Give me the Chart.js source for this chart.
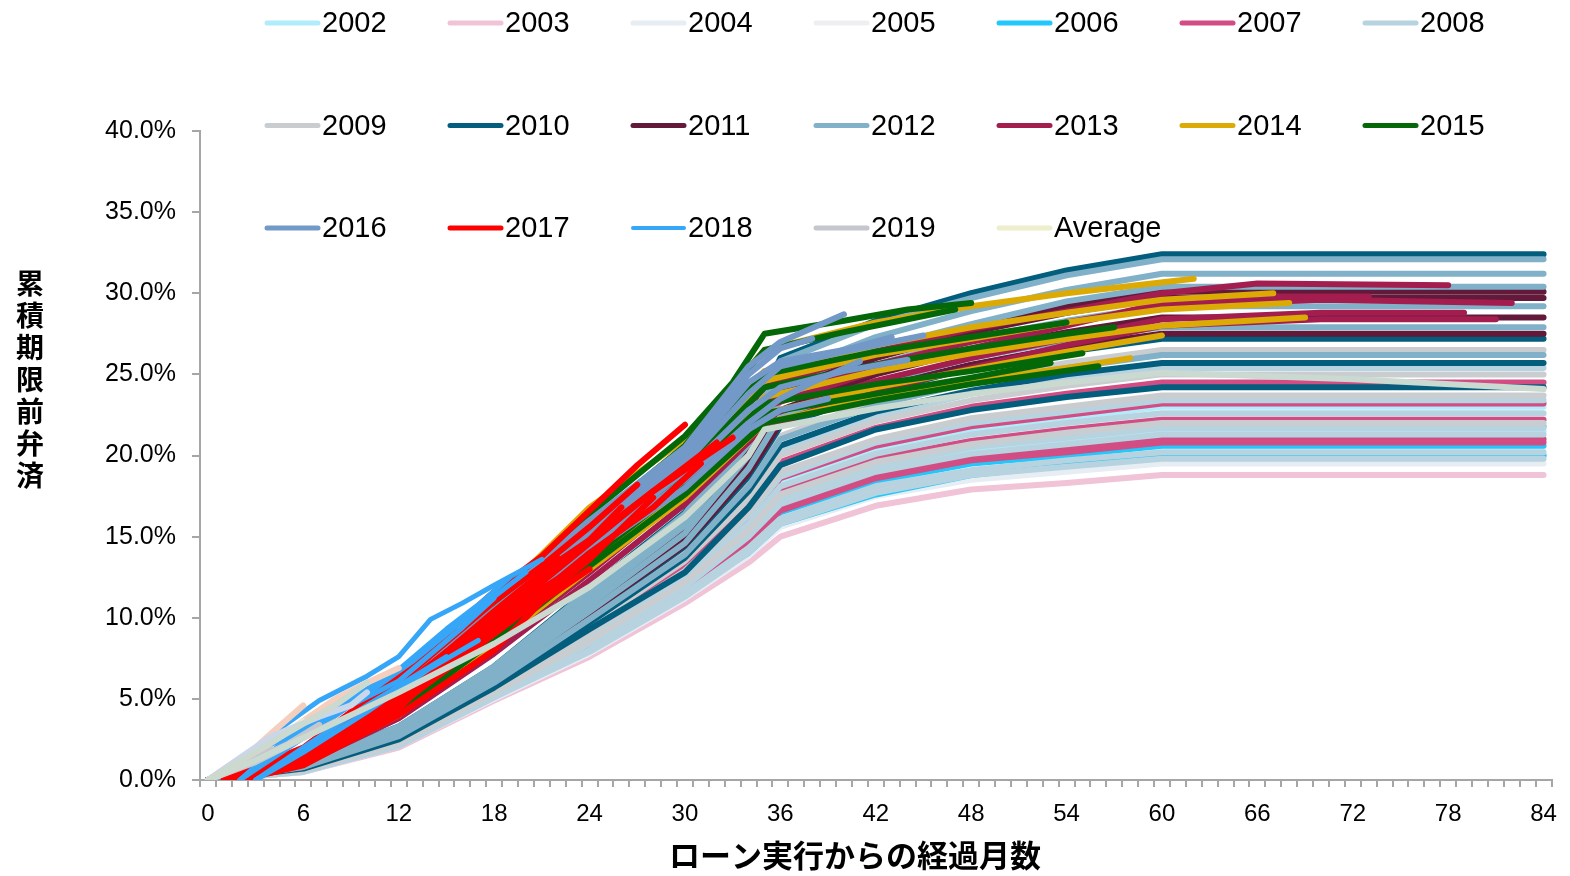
<!DOCTYPE html>
<html>
<head>
<meta charset="utf-8">
<script src="https://cdn.jsdelivr.net/npm/chart.js@4.4.1/dist/chart.umd.min.js"></script>
<style>
    html, body { margin: 0; padding: 0; background: #fff; }
    #wrap { position: relative; width: 1570px; height: 876px; }
</style>
</head>
<body>
<div id="wrap"><canvas id="prepay-chart" width="1570" height="876"></canvas></div>
<script>
// series names and colours (legend order)
const years = ['2002', '2003', '2004', '2005', '2006', '2007', '2008',
               '2009', '2010', '2011', '2012', '2013', '2014', '2015',
               '2016', '2017', '2018', '2019', 'Average'];
const colors = ['#b0ecfb', '#f0c3d6', '#e6eef4', '#efeff1', '#22c8fb', '#d24d84', '#b8d3e0',
                '#cacdd0', '#035e7e', '#62193a', '#80b1c8', '#a41d4f', '#dbaa05', '#056808',
                '#7399c8', '#fe0000', '#36a6f8', '#c6c6ce', '#eeeecc'];
const avgLineColor = '#cbdad1';

// tick labels
const monthTicks = [0, 6, 12, 18, 24, 30, 36, 42, 48, 54, 60, 66, 72, 78, 84];
const yTicks = [0, 5, 10, 15, 20, 25, 30, 35, 40];

// months used by the older cohorts (values in %)
const oldMonths = [0, 6, 12, 18, 24, 30, 34, 36, 42, 48, 54, 60, 84];

const s2002 = [
    [0, 0.7, 2.4, 5.5, 8.9, 12.6, 16.1, 18.4, 20.4, 21.6, 22.3, 23.0, 23.0],
    [0, 0.6, 2.3, 5.3, 8.4, 12.0, 15.1, 17.2, 19.2, 20.3, 20.9, 21.5, 21.5]
];
const s2003 = [
    [0, 0.5, 2.0, 4.9, 7.6, 10.9, 13.4, 15.0, 16.9, 17.9, 18.3, 18.8, 18.8],
    [0, 0.5, 2.1, 5.1, 8.0, 11.4, 14.2, 16.0, 17.9, 19.0, 19.5, 20.0, 20.0]
];
const s2004 = [
    [0, 0.5, 2.1, 5.0, 7.8, 11.2, 13.8, 15.6, 17.5, 18.5, 19.0, 19.5, 19.5],
    [0, 0.6, 2.2, 5.2, 8.3, 11.8, 14.8, 16.8, 18.7, 19.9, 20.4, 21.0, 21.0]
];
const s2005 = [
    [0, 0.6, 2.2, 5.2, 8.2, 11.6, 14.5, 16.5, 18.4, 19.5, 20.0, 20.5, 20.5],
    [0, 0.6, 2.4, 5.5, 8.7, 12.4, 15.7, 18.0, 20.0, 21.2, 21.9, 22.5, 22.5]
];
const s2006 = [
    [0, 0.6, 2.2, 5.3, 8.3, 11.6, 14.0, 15.8, 17.6, 18.8, 19.4, 20.0, 20.0],
    [0, 0.6, 2.2, 5.2, 8.2, 11.8, 14.7, 16.5, 18.4, 19.5, 20.0, 20.6, 20.6],
    [0, 0.6, 2.3, 5.4, 8.6, 12.2, 15.3, 17.4, 19.4, 20.6, 21.2, 21.8, 21.8]
];
const s2007 = [
    [0, 0.6, 2.2, 5.2, 8.2, 11.7, 14.7, 16.6, 18.6, 19.7, 20.2, 20.8, 20.8],
    [0, 0.6, 2.3, 5.4, 8.6, 12.2, 15.0, 16.9, 18.8, 19.9, 20.5, 21.0, 21.0],
    [0, 0.6, 2.3, 5.4, 8.7, 12.3, 15.6, 17.8, 19.8, 20.9, 21.6, 22.2, 22.2],
    [0, 0.7, 2.4, 5.6, 9.0, 12.7, 16.2, 18.6, 20.6, 21.8, 22.5, 23.2, 23.2],
    [0, 0.7, 2.5, 5.8, 9.4, 13.2, 17.0, 19.6, 21.7, 23.0, 23.8, 24.5, 24.5]
];
const s2008 = [
    [0, 0.5, 2.1, 5.1, 7.9, 11.3, 14.0, 15.8, 17.7, 18.8, 19.3, 19.8, 19.8],
    [0, 0.6, 2.1, 5.1, 8.0, 11.5, 14.3, 16.1, 18.1, 19.1, 19.7, 20.2, 20.2],
    [0, 0.6, 2.2, 5.3, 8.4, 11.9, 15.0, 17.0, 19.0, 20.1, 20.7, 21.3, 21.3],
    [0, 0.6, 2.3, 5.3, 8.5, 12.1, 15.2, 17.3, 19.3, 20.5, 21.1, 21.7, 21.7],
    [0, 0.6, 2.4, 5.5, 8.8, 12.5, 15.8, 18.1, 20.1, 21.3, 22.0, 22.6, 22.6],
    [0, 0.7, 2.4, 5.6, 9.0, 12.8, 16.3, 18.7, 20.8, 22.0, 22.7, 23.4, 23.4],
    [0, 0.7, 2.6, 5.9, 9.6, 13.6, 17.6, 20.3, 22.4, 23.8, 24.7, 25.4, 25.4]
];
const s2009 = [
    [0, 0.6, 2.3, 5.4, 8.6, 12.2, 15.4, 17.6, 19.6, 20.7, 21.4, 22.0, 22.0],
    [0, 0.7, 2.5, 5.7, 9.1, 12.9, 16.5, 19.0, 21.0, 22.3, 23.0, 23.7, 23.7],
    [0, 0.7, 2.6, 5.9, 9.5, 13.5, 17.3, 20.0, 22.1, 23.4, 24.3, 25.0, 25.0],
    [0, 0.8, 2.7, 6.1, 10.0, 14.1, 18.3, 21.2, 23.4, 24.7, 25.7, 26.5, 26.5]
];
const s2010 = [
    [0, 0.7, 2.5, 5.7, 9.3, 12.8, 16.8, 19.4, 21.6, 22.8, 23.6, 24.2, 24.2],
    [0, 0.8, 2.7, 6.0, 9.7, 13.7, 17.8, 20.6, 22.7, 24.0, 25.0, 25.7, 25.7],
    [0, 0.8, 2.8, 6.2, 10.2, 14.4, 18.7, 21.8, 23.9, 25.4, 26.4, 27.2, 27.2],
    [0, 1.0, 3.3, 7.0, 11.8, 16.5, 22.0, 26.0, 28.3, 30.0, 31.4, 32.4, 32.4]
];
const s2011 = [
    [0, 0.8, 2.8, 6.2, 10.3, 14.5, 18.9, 22.0, 24.2, 25.6, 26.7, 27.5, 27.5],
    [0, 0.9, 2.9, 6.4, 10.6, 14.9, 19.5, 22.8, 25.0, 26.5, 27.6, 28.5, 28.5],
    [0, 0.9, 3.0, 6.6, 11.0, 15.4, 20.3, 23.8, 26.0, 27.6, 28.8, 29.7, 29.7],
    [0, 0.9, 3.1, 6.6, 11.1, 15.6, 20.5, 24.1, 26.4, 27.9, 29.2, 30.1, 30.1]
];
const s2012 = [
    [0, 0.8, 2.7, 6.0, 9.9, 13.9, 18.1, 21.0, 23.1, 24.5, 25.4, 26.2, 26.2],
    [0, 0.8, 2.9, 6.3, 10.4, 14.6, 19.2, 22.4, 24.5, 26.0, 27.1, 27.9, 27.9],
    [0, 0.9, 3.0, 6.5, 10.8, 15.2, 20.0, 23.4, 25.6, 27.2, 28.3, 29.2, 29.2],
    [0, 0.9, 3.1, 6.7, 11.2, 15.7, 20.7, 24.3, 26.6, 28.1, 29.5, 30.4, 30.4],
    [0, 1.0, 3.2, 6.8, 11.4, 16.0, 21.2, 25.0, 27.3, 28.9, 30.2, 31.2, 31.2],
    [0, 1.0, 3.3, 7.0, 11.7, 16.4, 21.8, 25.8, 28.1, 29.7, 31.1, 32.1, 32.1]
];

// younger cohorts: [month, %] pairs, lines stop at the last observed month
const s2013 = [
    [[0, 0], [6, 1.2], [12, 4.4], [18, 9.0], [24, 14.0], [30, 19.0], [35, 24.2], [42, 26.4], [48, 27.8], [54, 28.9], [60, 30.0], [66, 30.6], [78, 30.5]],
    [[0, 0], [6, 1.1], [12, 4.2], [18, 8.6], [24, 13.4], [30, 18.4], [35, 23.4], [42, 25.6], [48, 27.0], [54, 28.2], [60, 29.2], [70, 29.6], [82, 29.4]],
    [[0, 0], [6, 1.0], [12, 4.0], [18, 8.2], [24, 12.8], [30, 17.6], [35, 22.4], [42, 24.6], [48, 26.0], [54, 27.2], [60, 28.4], [70, 28.8], [79, 28.8]],
    [[0, 0], [6, 1.0], [12, 3.8], [18, 7.8], [24, 12.3], [30, 17.0], [35, 21.8], [42, 24.0], [48, 25.4], [54, 26.8], [60, 28.0], [70, 28.4], [81, 28.4]],
    [[0, 0], [6, 1.1], [12, 4.1], [18, 8.4], [24, 13.1], [30, 18.0], [35, 23.0], [42, 25.2], [48, 26.6], [54, 28.0], [60, 29.4], [66, 29.8], [73, 29.8]]
];
const s2014 = [
    [[0, 0], [6, 1.4], [12, 5.4], [18, 11.0], [24, 16.8], [30, 21.0], [35, 26.5], [42, 28.2], [48, 29.2], [54, 30.0], [62, 30.9]],
    [[0, 0], [6, 1.3], [12, 5.0], [18, 10.3], [24, 15.6], [30, 20.2], [35, 25.2], [42, 26.8], [48, 27.9], [54, 28.8], [60, 29.6], [67, 30.0]],
    [[0, 0], [6, 1.2], [12, 4.7], [18, 9.8], [24, 14.8], [30, 19.4], [35, 24.6], [42, 26.2], [48, 27.2], [54, 28.2], [60, 29.0], [68, 29.4]],
    [[0, 0], [6, 1.1], [12, 4.4], [18, 9.2], [24, 14.0], [30, 18.6], [35, 23.6], [42, 25.2], [48, 26.3], [54, 27.2], [60, 28.0], [69, 28.5]],
    [[0, 0], [6, 1.0], [12, 4.2], [18, 8.8], [24, 13.4], [30, 17.8], [35, 22.6], [42, 24.2], [48, 25.3], [54, 26.4], [60, 27.4]],
    [[0, 0], [6, 1.0], [12, 4.0], [18, 8.4], [24, 13.0], [30, 17.4], [35, 22.0], [42, 23.6], [48, 24.6], [54, 25.4], [58, 26.0]]
];
const s2015 = [
    [[0, 0], [6, 1.6], [12, 5.6], [18, 11.0], [24, 16.4], [30, 21.2], [33, 24.5], [35, 27.5], [40, 28.3], [44, 29.0], [48, 29.4]],
    [[0, 0], [6, 1.5], [12, 5.3], [18, 10.6], [24, 15.8], [30, 20.6], [35, 26.5], [40, 27.6], [44, 28.4], [47, 29.0]],
    [[0, 0], [6, 1.4], [12, 5.0], [18, 10.0], [24, 15.0], [30, 19.8], [35, 25.0], [42, 26.4], [48, 27.3], [54, 28.2]],
    [[0, 0], [6, 1.3], [12, 4.8], [18, 9.6], [24, 14.6], [30, 19.2], [35, 24.2], [42, 25.6], [48, 26.6], [54, 27.5], [57, 27.9]],
    [[0, 0], [6, 1.2], [12, 4.6], [18, 9.2], [24, 14.0], [30, 18.6], [35, 23.2], [42, 24.4], [48, 25.2], [55, 26.3]],
    [[0, 0], [6, 1.2], [12, 4.4], [18, 9.0], [24, 13.6], [30, 18.2], [35, 22.6], [42, 23.8], [48, 24.8], [53, 25.7]],
    [[0, 0], [6, 1.1], [12, 4.2], [18, 8.6], [24, 13.2], [30, 17.6], [35, 22.0], [42, 23.4], [48, 24.4], [56, 25.5]]
];
const s2016 = [
    [[0, 0], [6, 1.8], [12, 5.8], [18, 11.0], [24, 16.0], [30, 20.5], [34, 25.5], [36, 27.0], [40, 28.7]],
    [[0, 0], [6, 1.6], [12, 5.4], [18, 10.5], [24, 15.2], [30, 19.8], [34, 24.5], [36, 25.8], [40, 26.5], [43, 27.3]],
    [[0, 0], [6, 1.5], [12, 5.2], [18, 10.2], [24, 15.0], [30, 19.5], [34, 23.8], [36, 25.5], [40, 26.4], [45, 27.4]],
    [[0, 0], [6, 1.4], [12, 5.0], [18, 9.8], [24, 14.5], [30, 19.0], [34, 22.8], [36, 24.2], [40, 25.2], [44, 25.9]],
    [[0, 0], [6, 1.4], [12, 4.8], [18, 9.5], [24, 14.2], [30, 18.5], [34, 22.0], [36, 23.5], [38, 24.5], [41, 25.8]],
    [[0, 0], [6, 1.3], [12, 4.6], [18, 9.2], [24, 14.0], [30, 18.0], [34, 21.6], [36, 22.8], [39, 23.5]],
    [[0, 0], [6, 1.5], [12, 5.2], [18, 10.0], [24, 15.5], [30, 20.2], [34, 25.0], [36, 26.6], [38, 27.2]]
];
const s2017 = [
    [[1, 0], [6, 2.0], [12, 6.4], [18, 11.6], [21, 13.8], [24, 16.6], [27, 19.4], [30, 21.9]],
    [[1, 0], [6, 1.6], [12, 5.6], [18, 10.2], [21, 12.4], [24, 14.8], [28, 17.8], [32, 20.8]],
    [[1, 0], [6, 1.5], [12, 5.2], [18, 9.8], [21, 12.2], [24, 14.6], [28, 17.8], [33, 21.1]],
    [[2, 0], [6, 1.2], [12, 4.8], [18, 9.2], [21, 11.6], [24, 14.0], [28, 16.8], [31, 19.5]],
    [[2, 0], [6, 1.0], [12, 4.6], [18, 9.0], [21, 11.2], [24, 13.6], [28, 17.4]],
    [[1, 0], [6, 1.3], [12, 5.4], [18, 10.4], [21, 12.8], [24, 14.8], [26, 16.8]],
    [[2, 0], [6, 1.1], [12, 4.4], [18, 10.0], [20, 11.8], [22, 13.7]],
    [[2, 0], [6, 0.9], [12, 4.0], [18, 8.0], [21, 11.0], [24, 13.0]],
    [[1, 0], [6, 1.8], [12, 6.0], [18, 11.0], [21, 13.2], [24, 15.6], [27, 18.2]],
    [[2, 0], [6, 1.4], [12, 5.0], [18, 9.4], [21, 11.8], [23, 13.0]]
];
const s2018 = [
    [[4, 2.8], [7, 4.9], [10, 6.4], [12, 7.6], [14, 9.9], [16, 10.9], [18, 12.0], [21, 13.6]],
    [[2, 0], [5, 2.6], [8, 4.4], [12, 6.8], [15, 9.3], [17, 10.8], [19, 12.5]],
    [[2, 0], [6, 2.6], [10, 5.3], [13, 7.4], [16, 9.8], [20, 12.8]],
    [[3, 0], [6, 2.0], [10, 4.6], [13, 6.4], [15, 7.6]],
    [[3, 0], [6, 1.7], [10, 4.2], [14, 6.9], [17, 8.6]],
    [[4, 2.2], [6, 3.0], [9, 4.6], [12, 6.1], [16, 9.4], [18, 11.2]]
];
const s2019 = [
    [[0, 0], [3, 1.1], [6, 2.6], [8, 3.6]],
    [[0, 0], [3, 1.3], [5, 2.2], [7, 3.4]],
    [[0, 0], [2, 0.8], [4, 1.9]]
];
const sAverage = [
    [[0, 0], [3, 1.2], [6, 2.6], [12, 5.4], [18, 8.4], [24, 11.9], [30, 16.2], [34, 20.0], [35, 21.6],
     [42, 22.9], [48, 23.8], [54, 24.5], [60, 25.1], [72, 24.7], [84, 24.1]]
];

// short lines not listed in the legend
const extraLines = [
    [[0, 0], [3, 2.0], [4, 2.9], [6, 4.6]],
    [[0, 0], [4, 2.3], [8, 5.0], [10, 6.0], [12, 6.9]],
    [[0, 0], [3, 1.8], [5, 3.0], [6, 3.6]],
    [[0, 0], [4, 2.7], [7, 3.9], [9, 4.6], [10, 5.4]],
    [[0, 0], [5, 2.9], [8, 4.6], [10, 6.0]]
];
const extraColors = ['#f4cfbd', '#f4cfbd', '#efedcd', '#cad6ea', '#cbd9cf'];

const groups = [s2002, s2003, s2004, s2005, s2006, s2007, s2008, s2009, s2010, s2011,
                s2012, s2013, s2014, s2015, s2016, s2017, s2018, s2019, sAverage];

function toPoints(line) {
    if (Array.isArray(line[0])) {
        return line.map(p => ({ x: p[0], y: p[1] }));
    }
    return line.map((v, i) => ({ x: oldMonths[i], y: v }));
}

const datasets = [];
groups.forEach(function(lines, g) {
    lines.forEach(function(line) {
        datasets.push({
            label: years[g],
            data: toPoints(line),
            borderColor: years[g] === 'Average' ? avgLineColor : colors[g],
            borderWidth: years[g] === '2018' ? 5 : 6
        });
    });
});
extraLines.forEach(function(line, k) {
    datasets.push({ label: '', data: toPoints(line), borderColor: extraColors[k], borderWidth: 6 });
});
// later series are drawn on top
datasets.forEach(function(ds, i) { ds.order = -i; });

const FONT = '"Liberation Sans", Arial, sans-serif';
const CJK = '"Noto Sans CJK JP", "Noto Sans CJK SC", sans-serif';

// legend laid out as a 7-column grid
const gridLegend = {
    id: 'gridLegend',
    afterDraw(chart) {
        const ctx = chart.ctx;
        ctx.save();
        ctx.font = '29px ' + FONT;
        ctx.textBaseline = 'middle';
        ctx.lineCap = 'round';
        years.forEach(function(name, i) {
            const x = 265 + (i % 7) * 183;
            const y = 23 + Math.floor(i / 7) * 102.5;
            ctx.strokeStyle = colors[i];
            ctx.lineWidth = name === '2018' ? 4 : 5;
            ctx.beginPath();
            ctx.moveTo(x + 2, y);
            ctx.lineTo(x + 53, y);
            ctx.stroke();
            ctx.fillStyle = '#000';
            ctx.fillText(name, x + 57, y + 1);
        });
        ctx.restore();
    }
};

// axis titles
const axisTitles = {
    id: 'axisTitles',
    afterDraw(chart) {
        const ctx = chart.ctx;
        ctx.save();
        ctx.fillStyle = '#000';
        ctx.textAlign = 'center';
        ctx.textBaseline = 'middle';
        ctx.font = 'bold 28px ' + CJK;
        Array.from('累積期限前弁済').forEach(function(ch, i) {
            ctx.fillText(ch, 30, 283 + i * 32);
        });
        ctx.font = 'bold 31px ' + CJK;
        ctx.fillText('ローン実行からの経過月数', 855, 855);
        ctx.restore();
    }
};

const ctx = document.getElementById('prepay-chart').getContext('2d');
const prepayChart = new Chart(ctx, {
    type: 'line',
    data: { datasets: datasets },
    options: {
        responsive: false,
        animation: false,
        layout: { padding: { top: 131, right: 15, left: 0, bottom: 0 } },
        elements: {
            point: { radius: 0, hoverRadius: 0 },
            line: { tension: 0, borderCapStyle: 'round', borderJoinStyle: 'round', fill: false }
        },
        plugins: {
            legend: { display: false },
            tooltip: { enabled: false }
        },
        scales: {
            x: {
                type: 'linear',
                min: -0.5,
                max: 84.5,
                afterBuildTicks: function(scale) {
                    const t = [];
                    for (let m = 0; m <= 84; m++) t.push({ value: m });
                    scale.ticks = t;
                },
                afterFit: function(scale) { scale.height = 96; },
                ticks: {
                    autoSkip: false,
                    maxRotation: 0,
                    padding: 13,
                    color: '#000',
                    font: { family: FONT, size: 24 },
                    callback: function(v) { return monthTicks.includes(v) ? String(v) : ''; }
                },
                grid: {
                    drawOnChartArea: false,
                    offset: true,
                    tickLength: 7,
                    color: '#a6a6a6',
                    lineWidth: 2
                },
                border: { color: '#a6a6a6', width: 2 }
            },
            y: {
                type: 'linear',
                min: 0,
                max: 40,
                afterBuildTicks: function(scale) {
                    scale.ticks = yTicks.map(v => ({ value: v }));
                },
                afterFit: function(scale) { scale.width = 200; },
                ticks: {
                    padding: 16,
                    color: '#000',
                    font: { family: FONT, size: 25 },
                    callback: function(v) { return v.toFixed(1) + '%'; }
                },
                grid: {
                    drawOnChartArea: false,
                    tickLength: 8,
                    color: '#a6a6a6',
                    lineWidth: 2
                },
                border: { color: '#a6a6a6', width: 2 }
            }
        }
    },
    plugins: [gridLegend, axisTitles]
});
</script>
</body>
</html>
